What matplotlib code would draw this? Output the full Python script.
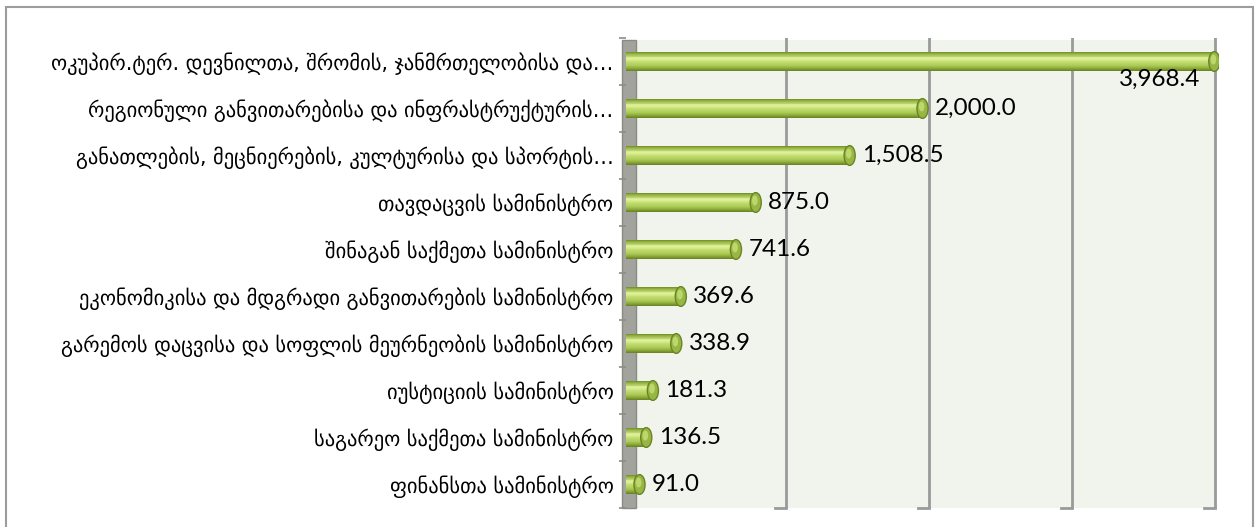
import numpy as np
import matplotlib.pyplot as plt
from matplotlib.patches import Ellipse, Rectangle
from matplotlib.colors import LinearSegmentedColormap

# 데이터
labels = [
    'ოკუპირ.ტერ. დევნილთა, შრომის, ჯანმრთელობისა და…',
    'რეგიონული განვითარებისა და ინფრასტრუქტურის…',
    'განათლების, მეცნიერების, კულტურისა და სპორტის…',
    'თავდაცვის სამინისტრო',
    'შინაგან საქმეთა სამინისტრო',
    'ეკონომიკისა და მდგრადი განვითარების სამინისტრო',
    'გარემოს დაცვისა და სოფლის მეურნეობის სამინისტრო',
    'იუსტიციის სამინისტრო',
    'საგარეო საქმეთა სამინისტრო',
    'ფინანსთა სამინისტრო',
]
values = [3968.4, 2000.0, 1508.5, 875.0, 741.6, 369.6, 338.9, 181.3, 136.5, 91.0]
x_ticks = [1000, 2000, 3000, 4000]

W, H = 1258, 527
fig = plt.figure(figsize=(W / 100, H / 100), dpi=100)

# 플롯 영역 (픽셀 기준)
left_px, right_px, top_px, bot_px = 626, 1219, 38, 508
ax = fig.add_axes([left_px / W, 1 - bot_px / H, (right_px - left_px) / W, (bot_px - top_px) / H])
ax.set_xlim(0, 4000)
ax.set_ylim(len(values) - 0.5, -0.5)
for s in ax.spines.values():
    s.set_visible(False)
ax.set_xticks([])
ax.set_yticks(np.arange(len(values) + 1) - 0.5, minor=True)
ax.set_yticks(np.arange(len(values)))
ax.set_yticklabels(labels, fontsize=14.8, family='DejaVu Sans')
ax.tick_params(axis='y', which='major', length=0, pad=9)
ax.tick_params(axis='y', which='minor', length=5, color='#8c8c8c', width=1.2, pad=0)

# 배경 + 뒷벽 그리드
bg = Rectangle((636 / W, 1 - 508 / H), (1217 - 636) / W, (508 - 40) / H,
               transform=fig.transFigure, facecolor='#f1f3ed', edgecolor='none', zorder=-3)
fig.patches.append(bg)
wall = Rectangle((622 / W, 1 - 508 / H), 14 / W, (508 - 40) / H,
                 transform=fig.transFigure, facecolor='#a3a39d', edgecolor='#8a8a85', lw=1, zorder=-2)
fig.patches.append(wall)

gax = ax.twiny()
gax.set_xlim(-119, 4028)
gax.set_xticks(x_ticks)
gax.grid(True, axis='x', color='#9a9a9a', lw=2)
gax.tick_params(length=0, labeltop=False, labelbottom=False)
for s in gax.spines.values():
    s.set_visible(False)
gax.set_zorder(ax.get_zorder() - 1)
ax.set_zorder(gax.get_zorder() + 1)
ax.patch.set_visible(False)
# 바닥 라인
for t in x_ticks:
    gax.plot([t - 80, t], [0, 0], color='#9a9a9a', lw=2, transform=gax.get_xaxis_transform(), clip_on=False)

# 원통형 막대 (그라데이션)
cmap = LinearSegmentedColormap.from_list('cyl', [
    (0.0, '#65801f'), (0.1, '#93b340'), (0.33, '#e2f29c'), (0.5, '#c6e176'),
    (0.8, '#9fbe48'), (1.0, '#5f781c')])
y = np.arange(len(values))
bh = 0.42
n = 24
for i in range(n):
    off = -bh / 2 + (i + 0.5) * bh / n
    ax.barh(y + off, values, height=bh / n * 1.05, left=0, color=cmap(i / (n - 1)), lw=0, zorder=2)

for yi, v in zip(y, values):
    ax.add_patch(Ellipse((v, yi), 75, bh, facecolor='#98b645', edgecolor='#6a8424', lw=1, zorder=3))
    ax.add_patch(Ellipse((v - 6, yi - bh * 0.1), 38, bh * 0.5, facecolor='#bcd86c', edgecolor='none', zorder=3))

# 값 레이블
for yi, v in zip(y, values):
    txt = f'{v:,.1f}'
    if v > 3500:
        ax.annotate(txt, (v, yi), xytext=(-10, -5), textcoords='offset points',
                    ha='right', va='top', fontsize=17.5, family='Lato', zorder=4)
    else:
        ax.annotate(txt, (v, yi), xytext=(9, 0), textcoords='offset points',
                    ha='left', va='center', fontsize=17.5, family='Lato', zorder=4)

# 외곽 테두리
fig.patches.append(Rectangle((6 / W, -0.05), (1253 - 6) / W, 1.05 - 7 / H,
                             transform=fig.transFigure, facecolor='none', edgecolor='#9c9c9c', lw=1.5))

fig.savefig('out.png', dpi=100)
